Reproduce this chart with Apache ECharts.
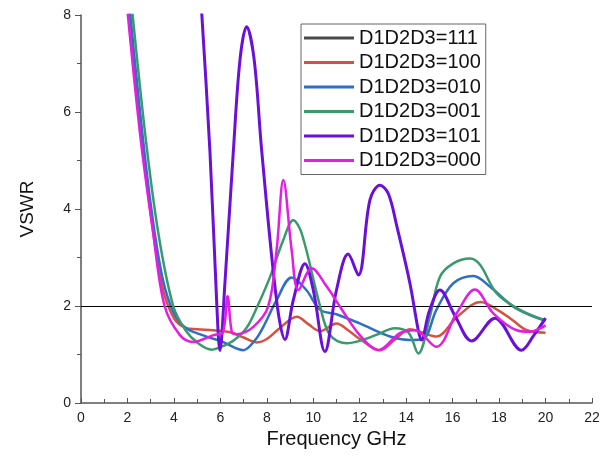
<!DOCTYPE html>
<html>
<head>
<meta charset="utf-8">
<script src="https://cdn.jsdelivr.net/npm/echarts@6/dist/echarts.min.js"></script>
<style>html,body{margin:0;padding:0;background:#fff}#c{width:610px;height:466px}</style>
</head>
<body>
<div id="c"></div>
<script>
var seriesNames = ['D1D2D3=111','D1D2D3=100','D1D2D3=010','D1D2D3=001','D1D2D3=101','D1D2D3=000'];
var seriesColors = ['#4a4a4a','#d8503f','#2f6fc6','#3a9a6c','#6a10d8','#e31de3'];
var xTicks = [0,2,4,6,8,10,12,14,16,18,20,22];
var yTicks = [0,2,4,6,8];

var d111 = [];
var d100 = [[2.0,8.6],[2.5,6.0],[3.0,3.9],[3.5,2.4],[4.0,1.75],[4.5,1.55],[5.0,1.52],[5.7,1.5],[6.5,1.45],[7.0,1.35],[7.56,1.25],[8.0,1.32],[8.5,1.52],[9.3,1.78],[9.8,1.62],[10.3,1.48],[11.0,1.64],[11.5,1.5],[12.0,1.32],[12.87,1.09],[13.5,1.3],[14.16,1.52],[14.7,1.45],[15.3,1.37],[16.2,1.78],[17.2,2.08],[18.0,1.9],[18.6,1.7],[19.2,1.5],[20.0,1.45]];
var d010 = [[2.0,8.6],[2.5,6.2],[3.0,4.1],[3.5,2.6],[4.0,1.85],[4.5,1.55],[5.1,1.42],[6.1,1.26],[6.99,1.09],[7.5,1.3],[7.85,1.57],[8.42,2.12],[9.07,2.59],[9.7,2.33],[10.3,1.92],[11.0,1.83],[12.0,1.64],[13.3,1.37],[14.16,1.3],[14.73,1.32],[15.3,1.92],[16.03,2.47],[16.9,2.62],[17.6,2.4],[18.6,1.99],[19.3,1.82],[20.0,1.7]];
var d001 = [[2.1,8.6],[2.76,5.56],[3.33,3.5],[3.97,2.0],[4.5,1.5],[5.0,1.25],[5.63,1.1],[6.0,1.15],[6.6,1.3],[7.13,1.55],[7.6,2.0],[8.14,2.6],[8.7,3.35],[9.14,3.77],[9.5,3.5],[10.29,2.0],[10.72,1.4],[11.44,1.23],[12.0,1.28],[12.8,1.42],[13.5,1.54],[14.1,1.45],[14.52,1.02],[15.02,1.78],[15.45,2.6],[16.03,2.88],[16.75,2.98],[17.18,2.85],[17.9,2.26],[18.9,1.92],[20.0,1.7]];
var d101 = [[5.1,8.8],[5.55,5.2],[5.84,2.1],[5.98,1.08],[6.2,2.5],[6.56,5.2],[6.85,7.1],[7.13,7.76],[7.45,7.1],[7.78,5.2],[8.42,2.12],[8.78,1.31],[9.14,2.12],[9.64,2.87],[10.0,2.33],[10.5,1.06],[11.0,2.33],[11.5,3.07],[11.94,2.64],[12.44,4.19],[12.87,4.49],[13.23,4.32],[13.6,3.64],[14.16,2.47],[14.52,1.5],[14.65,1.3],[15.0,1.9],[15.45,2.33],[16.1,1.8],[16.82,1.28],[17.82,1.75],[18.97,1.09],[19.5,1.4],[20.0,1.75]];
var d000 = [[1.9,8.6],[2.54,5.56],[3.11,3.5],[3.6,2.0],[4.26,1.4],[4.83,1.26],[5.7,1.4],[6.1,1.45],[6.31,2.2],[6.5,1.45],[6.7,1.42],[7.42,1.57],[8.06,1.99],[8.42,3.15],[8.71,4.6],[9.07,3.15],[9.36,2.33],[9.93,2.78],[10.58,2.4],[11.2,1.95],[12.0,1.4],[12.8,1.09],[13.73,1.44],[14.38,1.5],[15.3,1.16],[16.17,1.85],[16.96,2.34],[17.75,1.85],[18.76,1.5],[19.33,1.47],[20.0,1.6]];
var allData = [d111,d100,d010,d001,d101,d000];

var chart = echarts.init(document.getElementById('c'), null, {renderer:'canvas'});
var series = seriesNames.map(function(n,i){
  return {
    name:n, type:'line', data:allData[i], smooth:0.35, showSymbol:false, clip:true,
    lineStyle:{width: i===4 ? 3 : 2.5, color:seriesColors[i]},
    itemStyle:{color:seriesColors[i]}, z: 2+i
  };
});
series.push({
  type:'line', data:[], silent:true,
  markLine:{silent:true, symbol:['none','none'], label:{show:false},
    lineStyle:{color:'#000', width:1, type:'solid'},
    data:[{yAxis:2}]}
});
chart.setOption({
  animation:false,
  textStyle:{fontFamily:'Liberation Sans, Arial, sans-serif'},
  grid:{left:81, top:15, width:511, height:388},
  legend:{
    data:seriesNames, orient:'vertical', left:301, top:24,
    icon:'rect', itemWidth:50, itemHeight:3, itemGap:4.5,
    borderColor:'#666', borderWidth:1, padding:[4,5,4,3],
    backgroundColor:'#fff',
    textStyle:{fontSize:20, color:'#111', lineHeight:20}
  },
  xAxis:{
    type:'value', min:0, max:22, interval:2,
    name:'Frequency GHz', nameLocation:'middle', nameGap:26,
    nameTextStyle:{fontSize:20, color:'#111'},
    axisLine:{lineStyle:{color:'#555', width:1.5}},
    axisTick:{inside:true, length:5, lineStyle:{color:'#555'}},
    minorTick:{show:true, splitNumber:2, length:4, lineStyle:{color:'#555'}},
    axisLabel:{fontSize:14, color:'#222', margin:8},
    splitLine:{show:false}
  },
  yAxis:{
    type:'value', min:0, max:8, interval:2,
    name:'VSWR', nameLocation:'middle', nameGap:44,
    nameTextStyle:{fontSize:19, color:'#111'},
    axisLine:{show:true, lineStyle:{color:'#555', width:1.5}},
    axisTick:{show:true, inside:false, length:6, lineStyle:{color:'#555'}},
    minorTick:{show:true, splitNumber:2, length:4, lineStyle:{color:'#555'}},
    axisLabel:{fontSize:14, color:'#222', margin:10},
    splitLine:{show:false}
  },
  series:series
});
</script>
</body>
</html>
